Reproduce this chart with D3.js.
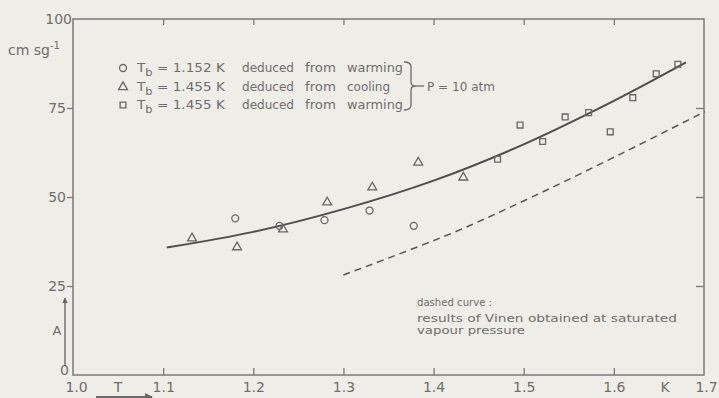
<!DOCTYPE html>
<html>
<head>
<meta charset="utf-8">
<script src="https://cdn.jsdelivr.net/npm/d3@7"></script>
<style>
  html, body { margin: 0; padding: 0; background: #eeede7; }
  svg { display: block; }
  text { font-family: "DejaVu Sans", "Liberation Sans", sans-serif; fill: #6e6e6e; }
</style>
</head>
<body>
<svg id="chart" width="719" height="398"></svg>
<script>
// Critical velocity A (cm s g^-1) against temperature T (K), P = 10 atm

// x-axis tick labels (K) and y-axis tick labels
const xTicks = [1.0, 1.1, 1.2, 1.3, 1.4, 1.5, 1.6, 1.7];
const yTicks = [0, 25, 50, 75, 100];

// Tb = 1.152 K, deduced from warming (circles)
const warming1152T = [1.180, 1.229, 1.279, 1.329, 1.378];
const warming1152A = [44.0, 41.9, 43.5, 46.2, 41.9];

// Tb = 1.455 K, deduced from cooling (triangles)
const cooling1455T = [1.132, 1.182, 1.233, 1.282, 1.332, 1.383, 1.433];
const cooling1455A = [38.4, 35.9, 40.9, 48.5, 52.7, 59.7, 55.5];

// Tb = 1.455 K, deduced from warming (squares)
const warming1455T = [1.471, 1.496, 1.521, 1.546, 1.572, 1.596, 1.621, 1.647, 1.671];
const warming1455A = [60.6, 70.2, 65.6, 72.5, 73.7, 68.3, 77.9, 84.6, 87.3];

// smooth curve through the P = 10 atm data
const fitT = [1.104, 1.20, 1.30, 1.40, 1.50, 1.60, 1.68];
const fitA = [35.8, 40.2, 46.6, 54.6, 64.8, 77.0, 87.8];

// Vinen, saturated vapour pressure (dashed)
const vinenT = [1.300, 1.420, 1.510, 1.610, 1.701];
const vinenA = [28.1, 39.8, 50.1, 62.4, 74.0];

const svg = d3.select("#chart");
const x = d3.scaleLinear().domain([1.0, 1.7]).range([73, 704]);
const y = d3.scaleLinear().domain([0, 100]).range([375, 19]);

const axisColor = "#7a7a7a";

// frame
svg.append("rect")
  .attr("x", x(1.0)).attr("y", y(100))
  .attr("width", x(1.7) - x(1.0)).attr("height", y(0) - y(100))
  .attr("fill", "none").attr("stroke", axisColor).attr("stroke-width", 1.5);

// bottom axis: inward ticks, labels below
const gx = svg.append("g").attr("transform", `translate(0,${y(0)})`)
  .call(d3.axisBottom(x).tickValues(xTicks).tickSize(-7).tickPadding(7)
    .tickFormat(d3.format(".1f")));
gx.select(".domain").remove();
gx.selectAll(".tick line").attr("stroke", axisColor).attr("stroke-width", 1.3)
  .filter(d => d === 1.0 || d === 1.7).remove();
gx.selectAll(".tick text").attr("font-size", 14).attr("fill", "#6e6e6e")
  .attr("font-family", "DejaVu Sans, sans-serif")
  .attr("dx", d => d === 1.0 ? 3 : (d === 1.7 ? 2 : 0));

// top axis: inward ticks only
const gt = svg.append("g").attr("transform", `translate(0,${y(100)})`)
  .call(d3.axisTop(x).tickValues(xTicks.slice(1, -1)).tickSize(-6).tickFormat(""));
gt.select(".domain").remove();
gt.selectAll(".tick line").attr("stroke", axisColor).attr("stroke-width", 1.3);

// left axis: outward ticks with labels
const gy = svg.append("g").attr("transform", `translate(${x(1.0)},0)`)
  .call(d3.axisLeft(y).tickValues(yTicks).tickSize(6).tickPadding(1));
gy.select(".domain").remove();
gy.selectAll(".tick line").attr("stroke", axisColor).attr("stroke-width", 1.3)
  .filter(d => d === 0 || d === 100).remove();
gy.selectAll(".tick text").attr("font-size", 14).attr("fill", "#6e6e6e")
  .attr("font-family", "DejaVu Sans, sans-serif")
  .attr("x", d => d === 0 ? -4 : (d === 100 ? -1 : -7))
  .attr("dy", d => d === 0 ? "-0.05em" : "0.32em");

// right axis: inward ticks only
const gr = svg.append("g").attr("transform", `translate(${x(1.7)},0)`)
  .call(d3.axisRight(y).tickValues([25, 50, 75]).tickSize(-8).tickFormat(""));
gr.select(".domain").remove();
gr.selectAll(".tick line").attr("stroke", axisColor).attr("stroke-width", 1.3);

// axis titles
const unit = svg.append("text").attr("x", 8).attr("y", 55).attr("font-size", 14);
unit.append("tspan").text("cm sg");
unit.append("tspan").attr("font-size", 10).attr("dy", -6).text("-1");

svg.append("text").attr("x", 57).attr("y", 335).attr("font-size", 13)
  .attr("text-anchor", "middle").text("A");
svg.append("text").attr("x", 118).attr("y", 392).attr("font-size", 14)
  .attr("text-anchor", "middle").text("T");
svg.append("text").attr("x", 665).attr("y", 392).attr("font-size", 14)
  .attr("text-anchor", "middle").text("K");

// direction arrows on the axis titles
const defs = svg.append("defs");
defs.append("marker").attr("id", "head").attr("viewBox", "0 0 10 10")
  .attr("refX", 9).attr("refY", 5).attr("markerWidth", 4).attr("markerHeight", 4)
  .attr("orient", "auto")
  .append("path").attr("d", "M0,0 L10,5 L0,10 z").attr("fill", "#666");
svg.append("line").attr("x1", 65).attr("y1", 366).attr("x2", 65).attr("y2", 298)
  .attr("stroke", "#6a6a6a").attr("stroke-width", 1.4).attr("marker-end", "url(#head)");
svg.append("line").attr("x1", 96).attr("y1", 397).attr("x2", 152).attr("y2", 397)
  .attr("stroke", "#6a6a6a").attr("stroke-width", 2).attr("marker-end", "url(#head)");

// curves
const line = d3.line().x(d => x(d[0])).y(d => y(d[1])).curve(d3.curveCatmullRom.alpha(0.5));
svg.append("path").datum(fitT.map((t, i) => [t, fitA[i]]))
  .attr("d", line).attr("fill", "none").attr("stroke", "#4d4d4d").attr("stroke-width", 2);
svg.append("path").datum(vinenT.map((t, i) => [t, vinenA[i]]))
  .attr("d", line).attr("fill", "none").attr("stroke", "#555").attr("stroke-width", 1.5)
  .attr("stroke-dasharray", "7,5");

// markers
const mStroke = "#666", mWidth = 1.3;
const circleSym = d3.symbol().type(d3.symbolCircle).size(38);
const triSym = d3.symbol().type(d3.symbolTriangle).size(34);
const sqSym = d3.symbol().type(d3.symbolSquare).size(34);

function drawSeries(ts, as, sym) {
  svg.append("g").selectAll("path").data(ts.map((t, i) => [t, as[i]])).join("path")
    .attr("d", sym)
    .attr("transform", d => `translate(${x(d[0])},${y(d[1])})`)
    .attr("fill", "none").attr("stroke", mStroke).attr("stroke-width", mWidth);
}
drawSeries(warming1152T, warming1152A, circleSym);
drawSeries(cooling1455T, cooling1455A, triSym);
drawSeries(warming1455T, warming1455A, sqSym);

// legend
const legendRows = [
  { sym: circleSym, tb: "1.152 K", how: ["deduced", "from", "warming"] },
  { sym: triSym, tb: "1.455 K", how: ["deduced", "from", "cooling"] },
  { sym: sqSym, tb: "1.455 K", how: ["deduced", "from", "warming"] }
];
const rowY = [68, 87, 105];
const wordX = [242, 305, 347];
const wordW = { deduced: 52, from: 31, warming: 56, cooling: 43 };
legendRows.forEach((r, i) => {
  const cy = rowY[i];
  svg.append("path").attr("d", r.sym).attr("transform", `translate(123,${cy})`)
    .attr("fill", "none").attr("stroke", mStroke).attr("stroke-width", mWidth);
  const t = svg.append("text").attr("x", 137).attr("y", cy + 4).attr("font-size", 12)
    .attr("textLength", 88).attr("lengthAdjust", "spacingAndGlyphs");
  t.append("tspan").text("T");
  t.append("tspan").attr("font-size", 10).attr("dy", 4).text("b");
  t.append("tspan").attr("dy", -4).text(" = " + r.tb);
  r.how.forEach((w, k) => {
    svg.append("text").attr("x", wordX[k]).attr("y", cy + 4).attr("font-size", 12)
      .attr("textLength", wordW[w]).attr("lengthAdjust", "spacingAndGlyphs").text(w);
  });
});

// brace grouping the three rows
svg.append("path")
  .attr("d", "M404,62 Q411,62 411,67 L411,82 Q411,86 416,86 Q411,86 411,90 L411,105 Q411,110 404,110")
  .attr("fill", "none").attr("stroke", "#6a6a6a").attr("stroke-width", 1.3);
svg.append("line").attr("x1", 416).attr("x2", 424).attr("y1", 86).attr("y2", 86)
  .attr("stroke", "#6a6a6a").attr("stroke-width", 1.3);
svg.append("text").attr("x", 427).attr("y", 91).attr("font-size", 12)
  .attr("textLength", 68).attr("lengthAdjust", "spacingAndGlyphs").text("P = 10 atm");

// note on the dashed curve
const note = svg.append("g");
note.append("text").attr("x", 417).attr("y", 306).attr("font-size", 11)
  .attr("textLength", 75).attr("lengthAdjust", "spacingAndGlyphs").text("dashed curve :");
note.append("text").attr("x", 417).attr("y", 322).attr("font-size", 11)
  .attr("textLength", 260).attr("lengthAdjust", "spacingAndGlyphs")
  .text("results of Vinen obtained at saturated");
note.append("text").attr("x", 417).attr("y", 334).attr("font-size", 11)
  .attr("textLength", 108).attr("lengthAdjust", "spacingAndGlyphs").text("vapour pressure");
</script>
</body>
</html>
